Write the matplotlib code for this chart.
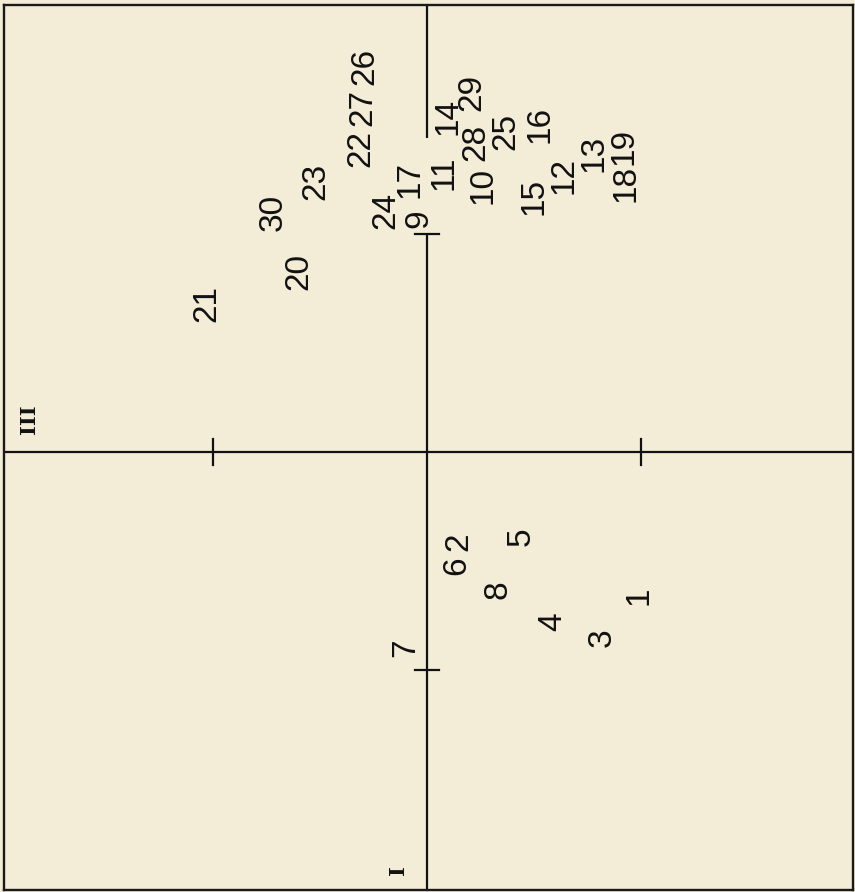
import matplotlib
matplotlib.use("Agg")
import matplotlib.pyplot as plt

# Component scores of the 30 samples (axis I horizontal, axis III vertical)
labels = [str(i) for i in range(1, 31)]
axis_I = [0.99, 0.15, 0.82, 0.59, 0.44, 0.14, -0.10, 0.33, -0.04, 0.26,
          0.08, 0.64, 0.78, 0.10, 0.50, 0.53, -0.08, 0.93, 0.92, -0.60,
          -1.03, -0.31, -0.52, -0.19, 0.37, -0.29, -0.30, 0.23, 0.21, -0.72]
axis_III = [-0.66, -0.41, -0.85, -0.78, -0.39, -0.52, -0.90, -0.63, 1.07, 1.22,
            1.28, 1.27, 1.37, 1.54, 1.17, 1.50, 1.25, 1.23, 1.40, 0.83,
            0.68, 1.39, 1.24, 1.11, 1.47, 1.77, 1.58, 1.42, 1.65, 1.10]

# Unit tick positions on each axis
tick_values = [-1.0, 1.0]
# Vertical axis is drawn in two pieces, leaving room for crowded labels
vert_segments = [(-2.05, 1.0), (1.44, 2.1)]
x_limits = (-1.977, 1.991)
y_limits = (-2.009, 2.050)

bg = "#f3ecd6"
fig = plt.figure(figsize=(8.55, 8.92), dpi=100, facecolor=bg)
ax = fig.add_axes([4 / 855, 1 - 890 / 892, 849 / 855, 885 / 892])
ax.set_facecolor(bg)
ax.set_xlim(*x_limits)
ax.set_ylim(*y_limits)
ax.set_xticks([])
ax.set_yticks([])
for s in ax.spines.values():
    s.set_linewidth(1.7)
    s.set_color("#1a1a1a")

lw = 1.6
ink = "#111111"
# Horizontal axis
ax.axhline(0, color=ink, lw=lw)
# Vertical axis pieces
for y0, y1 in vert_segments:
    ax.plot([0, 0], [y0, y1], color=ink, lw=lw, solid_capstyle="butt")

# Tick marks
th_y = 0.058
th_x = 0.058
for t in tick_values:
    ax.plot([t, t], [-th_y, th_y], color=ink, lw=lw)
    ax.plot([-th_x, th_x], [t, t], color=ink, lw=lw)

# Sample numbers
for lab, x, y in zip(labels, axis_I, axis_III):
    ax.text(x, y, lab, rotation=90, ha="center", va="center",
            fontsize=24, family="Liberation Sans", color=ink)

# Axis names
ax.text(-1.86, 0.15, "III", rotation=90, ha="center", va="center",
        fontsize=15, family="DejaVu Serif", fontweight="bold", color=ink)
ax.text(-0.136, -1.917, "I", rotation=90, ha="center", va="center",
        fontsize=15, family="DejaVu Serif", fontweight="bold", color=ink)

fig.savefig("out.png", dpi=100, facecolor=bg)
